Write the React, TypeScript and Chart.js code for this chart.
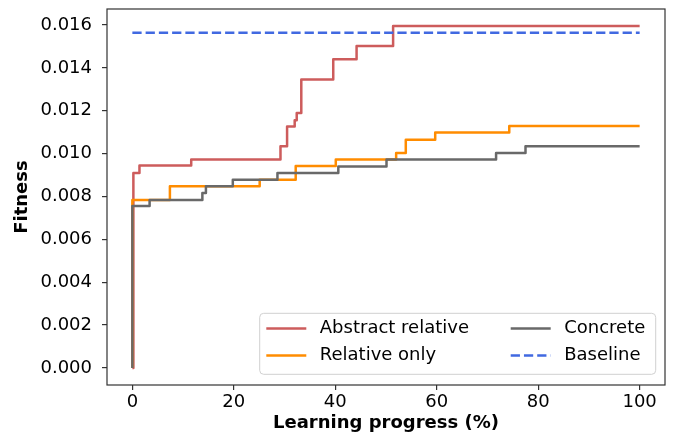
import React, { useEffect, useRef } from "react";
import { Chart, registerables } from "chart.js";

Chart.register(...registerables);

const seriesLabels = ["Abstract relative", "Relative only", "Concrete", "Baseline"];
const seriesColors = ["#CD5C5C", "#FF8C00", "#696969", "#4169E1"];

const abstractX = [0, 0.2, 1.4, 11.6, 29.2, 30.5, 32.0, 32.4, 33.3, 39.6, 44.2, 51.4, 100];
const abstractY = [0, 0.00909, 0.00944, 0.00972, 0.01034, 0.01127, 0.01156, 0.0119, 0.01346, 0.0144, 0.01502, 0.01595, 0.01595];

const relativeX = [0, 0, 7.4, 25.1, 32.2, 40.1, 52.0, 53.9, 59.7, 74.3, 100];
const relativeY = [0, 0.00784, 0.00848, 0.00878, 0.00942, 0.00972, 0.01003, 0.01065, 0.01098, 0.01129, 0.01129];

const concreteX = [0, 0, 3.4, 13.8, 14.5, 19.8, 28.6, 40.6, 50.1, 71.7, 77.5, 100];
const concreteY = [0, 0.00755, 0.00784, 0.00816, 0.00848, 0.00878, 0.00909, 0.0094, 0.00972, 0.01003, 0.01034, 0.01034];

const baselineX = [0, 100];
const baselineY = [0.01564, 0.01564];

const xTicks = [0, 20, 40, 60, 80, 100];
const yTicks = [0, 0.002, 0.004, 0.006, 0.008, 0.01, 0.012, 0.014, 0.016];

const FONT = "'DejaVu Sans', sans-serif";

const toPoints = (xs: number[], ys: number[]) => xs.map((x, i) => ({ x, y: ys[i] }));

const framePlugin = {
  id: "mplFrame",
  afterDatasetsDraw(chart: any) {
    const { ctx, chartArea: a } = chart;
    ctx.save();
    ctx.strokeStyle = "#333333";
    ctx.lineWidth = 1.2;
    ctx.strokeRect(a.left, a.top, a.right - a.left, a.bottom - a.top);
    ctx.restore();
  },
};

const legendPlugin = {
  id: "mplLegend",
  afterDraw(chart: any) {
    const { ctx, chartArea: a } = chart;
    const w = 396;
    const h = 61;
    const left = a.right - 9.3 - w;
    const top = a.bottom - 10.7 - h;
    ctx.save();
    ctx.beginPath();
    ctx.roundRect(left, top, w, h, 4);
    ctx.fillStyle = "rgba(255,255,255,0.8)";
    ctx.fill();
    ctx.strokeStyle = "#d0d0d0";
    ctx.lineWidth = 1;
    ctx.stroke();
    chart.data.datasets.forEach((ds: any, i: number) => {
      const col = Math.floor(i / 2);
      const row = i % 2;
      const lx = left + (col === 0 ? 6.6 : 251);
      const ly = top + 15.2 + row * 27;
      ctx.beginPath();
      ctx.setLineDash(ds.borderDash || []);
      ctx.strokeStyle = ds.borderColor;
      ctx.lineWidth = ds.borderWidth;
      ctx.moveTo(lx, ly);
      ctx.lineTo(lx + 40, ly);
      ctx.stroke();
      ctx.setLineDash([]);
      ctx.fillStyle = "#000";
      ctx.font = `18px ${FONT}`;
      ctx.textBaseline = "middle";
      ctx.textAlign = "left";
      ctx.fillText(ds.label, lx + 53.5, ly);
    });
    ctx.restore();
  },
};

export default function App() {
  const ref = useRef<HTMLCanvasElement>(null);

  useEffect(() => {
    if (!ref.current) return;
    const xs = [...abstractX, ...relativeX, ...concreteX, ...baselineX];
    const ys = [...abstractY, ...relativeY, ...concreteY, ...baselineY];
    const xMin = Math.min(...xs), xMax = Math.max(...xs);
    const yMin = Math.min(...ys), yMax = Math.max(...ys);
    const xm = (xMax - xMin) * 0.05;
    const ym = (yMax - yMin) * 0.05;

    const common = { pointRadius: 0, pointHoverRadius: 0, borderWidth: 2.5, stepped: true, fill: false, borderJoinStyle: "round" as const };
    const chart = new Chart(ref.current, {
      type: "line",
      data: {
        datasets: [
          { ...common, label: seriesLabels[0], data: toPoints(abstractX, abstractY), borderColor: seriesColors[0], backgroundColor: seriesColors[0], order: 3 },
          { ...common, label: seriesLabels[1], data: toPoints(relativeX, relativeY), borderColor: seriesColors[1], backgroundColor: seriesColors[1], order: 2 },
          { ...common, label: seriesLabels[2], data: toPoints(concreteX, concreteY), borderColor: seriesColors[2], backgroundColor: seriesColors[2], order: 1 },
          { ...common, label: seriesLabels[3], data: toPoints(baselineX, baselineY), borderColor: seriesColors[3], backgroundColor: seriesColors[3], borderDash: [9.25, 4], stepped: false, order: 0 },
        ],
      },
      options: {
        responsive: false,
        animation: false,
        devicePixelRatio: 1,
        layout: { padding: { top: 9, right: 12, bottom: 0, left: 0 } },
        plugins: { legend: { display: false }, tooltip: { enabled: false } },
        scales: {
          x: {
            type: "linear",
            min: xMin - xm,
            max: xMax + xm,
            afterBuildTicks: (s: any) => { s.ticks = xTicks.map((v) => ({ value: v })); },
            afterFit: (s: any) => { s.height = 56; s.paddingLeft = 0; s.paddingRight = 0; },
            grid: { drawOnChartArea: false, drawTicks: true, tickLength: 5, color: "#333333", lineWidth: 1.2 },
            border: { display: false },
            ticks: { color: "#000", font: { family: FONT, size: 18 }, padding: 2, maxRotation: 0, callback: (v: any) => String(v) },
            title: { display: true, text: "Learning progress (%)", color: "#000", font: { family: FONT, size: 18, weight: "bold" }, padding: { top: 0, bottom: 6.5 } },
          },
          y: {
            type: "linear",
            min: yMin - ym,
            max: yMax + ym,
            afterBuildTicks: (s: any) => { s.ticks = yTicks.map((v) => ({ value: v })); },
            afterFit: (s: any) => { s.width = 107; s.paddingTop = 0; s.paddingBottom = 0; },
            grid: { drawOnChartArea: false, drawTicks: true, tickLength: 5, color: "#333333", lineWidth: 1.2 },
            border: { display: false },
            ticks: { color: "#000", font: { family: FONT, size: 18 }, padding: 10, callback: (v: any) => Number(v).toFixed(3) },
            title: { display: true, text: "Fitness", color: "#000", font: { family: FONT, size: 18, weight: "bold" }, padding: { top: 12, bottom: 0 } },
          },
        },
      },
      plugins: [framePlugin, legendPlugin],
    });
    return () => chart.destroy();
  }, []);

  return (
    <div style={{ position: "absolute", left: 0, top: 0, width: 677, height: 441, background: "#fff" }}>
      <canvas ref={ref} width={677} height={441} style={{ display: "block" }} />
    </div>
  );
}
